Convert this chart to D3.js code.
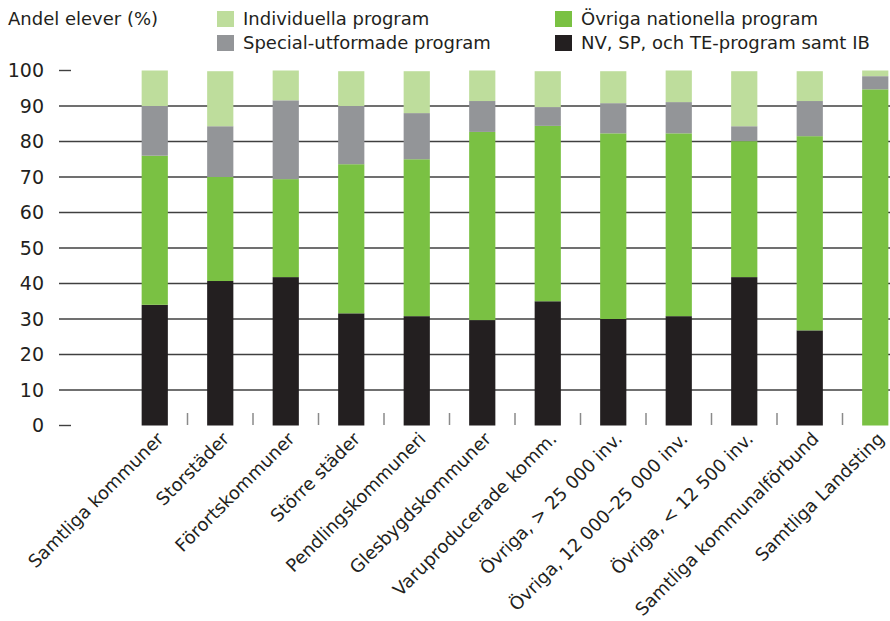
<!DOCTYPE html>
<html>
<head>
<meta charset="utf-8">
<script src="https://cdn.jsdelivr.net/npm/d3@7"></script>
<style>
  body { margin: 0; background: #fff; }
  text { fill: #231f20; }
</style>
</head>
<body>
<div id="chart"></div>
<script>
var categories = ["Samtliga kommuner", "Storstäder", "Förortskommuner", "Större städer",
  "Pendlingskommuneri", "Glesbygdskommuner", "Varuproducerade komm.", "Övriga, > 25 000 inv.",
  "Övriga, 12 000–25 000 inv.", "Övriga, < 12 500 inv.", "Samtliga kommunalförbund", "Samtliga Landsting"];

// andel elever (%) per programgrupp, nedifrån och upp
var nvSpTe     = [34, 40.7, 41.8, 31.6, 30.8, 29.7, 35, 30, 30.8, 41.8, 26.8, 0];
var ovrigaNat  = [42, 29.3, 27.6, 42, 44.2, 53, 49.4, 52.3, 51.5, 38.3, 54.7, 94.7];
var specialUtf = [14, 14.3, 22.2, 16.4, 13, 8.7, 5.3, 8.5, 8.8, 4.2, 9.9, 3.7];
var individ    = [10, 15.5, 8.4, 9.8, 11.8, 8.6, 10.1, 9, 8.9, 15.5, 8.4, 1.6];

var yTicks = [0, 10, 20, 30, 40, 50, 60, 70, 80, 90, 100];

var series = [
  {key: "nv", name: "NV, SP, och TE-program samt IB", color: "#231f20", values: nvSpTe},
  {key: "ov", name: "Övriga nationella program", color: "#7ac143", values: ovrigaNat},
  {key: "sp", name: "Special-utformade program", color: "#939598", values: specialUtf},
  {key: "ind", name: "Individuella program", color: "#bedd9c", values: individ}
];

var width = 890, height = 621;

var svg = d3.select("#chart").append("svg")
  .attr("width", width)
  .attr("height", height);

var rows = categories.map(function(c, i) {
  var r = {cat: c};
  series.forEach(function(s) { r[s.key] = s.values[i]; });
  return r;
});

var stack = d3.stack().keys(series.map(function(s) { return s.key; }));
var stacked = stack(rows);

var x = d3.scaleBand()
  .domain(categories)
  .range([122, 908])
  .paddingInner(0.6)
  .paddingOuter(0.3);

var y = d3.scaleLinear()
  .domain([0, 100])
  .range([425.5, 70.5]);

// gridlines
var grid = svg.append("g").attr("class", "grid");
grid.selectAll("line")
  .data(yTicks)
  .enter().append("line")
  .attr("x1", 59)
  .attr("x2", function(d) { return (d == 0 || d == 100) ? 71 : width; })
  .attr("y1", function(d) { return y(d); })
  .attr("y2", function(d) { return y(d); })
  .style("stroke", "#404040")
  .style("stroke-width", 1.4);

// y labels
svg.append("g").selectAll("text")
  .data(yTicks)
  .enter().append("text")
  .attr("x", 44)
  .attr("y", function(d) { return y(d); })
  .attr("dy", "0.36em")
  .attr("text-anchor", "end")
  .style("font-family", "DejaVu Sans")
  .style("font-size", "19px")
  .text(function(d) { return d; });

// bars
svg.append("g").selectAll("g")
  .data(stacked)
  .enter().append("g")
  .style("fill", function(d, i) { return series[i].color; })
  .selectAll("rect")
  .data(function(d) { return d; })
  .enter().append("rect")
  .attr("x", function(d) { return x(d.data.cat); })
  .attr("width", x.bandwidth())
  .attr("y", function(d) { return y(d[1]); })
  .attr("height", function(d) { return y(d[0]) - y(d[1]); });

// separators between categories
var step = x.step();
svg.append("g").selectAll("line")
  .data(categories.slice(1))
  .enter().append("line")
  .attr("x1", function(d) { return x(d) + x.bandwidth() / 2 - step / 2; })
  .attr("x2", function(d) { return x(d) + x.bandwidth() / 2 - step / 2; })
  .attr("y1", 413)
  .attr("y2", 425)
  .style("stroke", "#8a8a8a")
  .style("stroke-width", 1.5);

// x labels
svg.append("g").selectAll("text")
  .data(categories)
  .enter().append("text")
  .attr("transform", function(d) {
    return "translate(" + (x(d) + x.bandwidth() / 2 + 10) + ",440) rotate(-45)";
  })
  .attr("text-anchor", "end")
  .style("font-family", "DejaVu Sans")
  .style("font-size", "18px")
  .text(function(d) { return d; });

// legend
svg.append("text")
  .attr("x", 8)
  .attr("y", 25)
  .style("font-family", "DejaVu Sans")
  .style("font-size", "18px")
  .text("Andel elever (%)");

var legendItems = [
  {s: series[3], x: 217, y: 11},
  {s: series[2], x: 217, y: 35},
  {s: series[1], x: 555, y: 11},
  {s: series[0], x: 555, y: 35}
];

var lg = svg.append("g").selectAll("g")
  .data(legendItems)
  .enter().append("g")
  .attr("transform", function(d) { return "translate(" + d.x + "," + d.y + ")"; });

lg.append("rect")
  .attr("width", 17)
  .attr("height", 16)
  .style("fill", function(d) { return d.s.color; });

lg.append("text")
  .attr("x", 26)
  .attr("y", 14)
  .style("font-family", "DejaVu Sans")
  .style("font-size", "18px")
  .text(function(d) { return d.s.name; });
</script>
</body>
</html>
